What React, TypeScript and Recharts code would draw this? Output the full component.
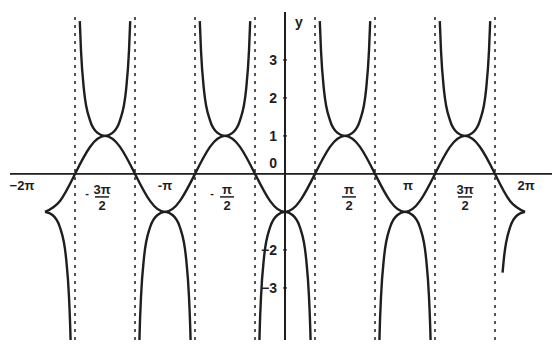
import { LineChart, Line, XAxis, YAxis, ReferenceLine, ReferenceDot } from 'recharts';

// x values are in multiples of pi
const waveX = [
  -2, -1.875, -1.75, -1.625, -1.5, -1.375, -1.25, -1.125,
  -1, -0.875, -0.75, -0.625, -0.5, -0.375, -0.25, -0.125,
  0, 0.125, 0.25, 0.375, 0.5, 0.625, 0.75, 0.875,
  1, 1.125, 1.25, 1.375, 1.5, 1.625, 1.75, 1.875, 2,
];
const waveY = [
  -1, -0.71, 0, 0.71, 1, 0.71, 0, -0.71,
  -1, -0.71, 0, 0.71, 1, 0.71, 0, -0.71,
  -1, -0.71, 0, 0.71, 1, 0.71, 0, -0.71,
  -1, -0.71, 0, 0.71, 1, 0.71, 0, -0.71, -1,
];

// one branch of the secant curve, read from the centre outwards
const branchOffsets = [0, 0.0625, 0.125, 0.175, 0.2, 0.21, 0.214];
const branchHeights = [1, 1.08, 1.41, 2.2, 3.24, 4.02, 4.46];

const upCenters = [-1.5, -0.5, 0.5, 1.5];
const downCenters = [-1, 0, 1];
const asymptotes = [-1.75, -1.25, -0.75, -0.25, 0.25, 0.75, 1.25, 1.75];

const xTicks = [-2, -1.5, -1, -0.5, 0.5, 1, 1.5, 2];
const xTickLabels = ['−2π', '−3π/2', '−π', '−π/2', 'π/2', 'π', '3π/2', '2π'];
const xTickShift = [-23, -3, 0, 2, 4, 3, 0, 1];
const yTicks = [3, 2, 1, -2, -3];
const yTickLabels = ['3', '2', '1', '−2', '−3'];

const INK = '#1e1e1e';
const FONT = '"Liberation Sans", Arial, sans-serif';

type Pt = { x: number; y: number };

function branch(center: number, sign: number, last: number, side: 'both' | 'left' | 'right'): Pt[] {
  const pts: Pt[] = [];
  const offs = branchOffsets.slice(0, last + 1);
  const hs = branchHeights.slice(0, last + 1);
  if (side !== 'right') {
    for (let i = offs.length - 1; i >= 0; i--) pts.push({ x: center - offs[i], y: sign * hs[i] });
  }
  if (side !== 'left') {
    for (let i = side === 'right' ? 0 : 1; i < offs.length; i++) pts.push({ x: center + offs[i], y: sign * hs[i] });
  }
  return pts;
}

const waveData = waveX.map((x, i) => ({ x, y: waveY[i] }));
const branches: Pt[][] = [
  ...upCenters.map((c) => branch(c, 1, 5, 'both')),
  ...downCenters.map((c) => branch(c, -1, 6, 'both')),
  branch(-2, -1, 6, 'right'),
  // the last half branch stops short in the figure
  [{ x: 2 - 0.187, y: -2.6 }, ...branch(2, -1, 3, 'left')],
];

function XLabel(props: any) {
  const { viewBox, text, shift } = props;
  const cx = viewBox.x + (viewBox.width || 0) / 2 + shift;
  const cy = viewBox.y + (viewBox.height || 0) / 2;
  const common = { fill: INK, fontFamily: FONT, fontWeight: 700, fontSize: 13, textAnchor: 'middle' as const };
  if (text.includes('/')) {
    const neg = text.startsWith('−');
    const [num, den] = text.replace('−', '').split('/');
    return (
      <g>
        {neg && (
          <text x={cx - 15} y={cy + 23} {...common} fontSize={11}>
            -
          </text>
        )}
        <text x={cx} y={cy + 20} {...common}>
          {num}
        </text>
        <line x1={cx - 7} x2={cx + 7} y1={cy + 23} y2={cy + 23} stroke={INK} strokeWidth={1.5} />
        <text x={cx} y={cy + 36} {...common}>
          {den}
        </text>
      </g>
    );
  }
  return (
    <text x={cx} y={cy + 16} {...common}>
      {text.replace('−', text === '−π' ? '-' : '−')}
    </text>
  );
}

function YLabel(props: any) {
  const { viewBox, text, anchor = 'end', dx = -8 } = props;
  const cx = viewBox.x + (viewBox.width || 0) / 2;
  const cy = viewBox.y + (viewBox.height || 0) / 2;
  return (
    <text x={cx + dx} y={cy + 5} fill={INK} fontFamily={FONT} fontWeight={700} fontSize={14} textAnchor={anchor}>
      {text}
    </text>
  );
}

export default function App() {
  return (
    <div style={{ position: 'absolute', left: 0, top: 0, width: 552, height: 348, background: '#fff' }}>
      <LineChart width={552} height={348} margin={{ top: 12, right: 0, bottom: 8, left: 10 }}>
        <XAxis type="number" dataKey="x" domain={[-2.2917, 2.225]} allowDataOverflow hide />
        <YAxis type="number" dataKey="y" domain={[-4.37, 4.26]} allowDataOverflow hide />

        {asymptotes.map((a) => (
          <ReferenceLine key={'as' + a} x={a} stroke="#444" strokeWidth={1.8} strokeDasharray="3 5" />
        ))}

        <ReferenceLine y={0} stroke={INK} strokeWidth={1.8} />
        <ReferenceLine x={0} stroke={INK} strokeWidth={2} />

        {yTicks.map((v) => (
          <ReferenceLine
            key={'yt' + v}
            segment={[
              { x: -0.015, y: v },
              { x: 0.015, y: v },
            ]}
            stroke={INK}
            strokeWidth={1.5}
          />
        ))}

        <Line
          data={waveData}
          dataKey="y"
          type="natural"
          stroke={INK}
          strokeWidth={2.4}
          dot={false}
          activeDot={false}
          isAnimationActive={false}
        />
        {branches.map((b, i) => (
          <Line
            key={'br' + i}
            data={b}
            dataKey="y"
            type="monotone"
            stroke={INK}
            strokeWidth={2.4}
            dot={false}
            activeDot={false}
            isAnimationActive={false}
          />
        ))}

        {xTicks.map((v, i) => (
          <ReferenceDot
            key={'xl' + v}
            x={v}
            y={0}
            r={1}
            fill="none"
            stroke="none"
            label={<XLabel text={xTickLabels[i]} shift={xTickShift[i]} />}
          />
        ))}
        {yTicks.map((v, i) => (
          <ReferenceDot
            key={'yl' + v}
            x={0}
            y={v}
            r={1}
            fill="none"
            stroke="none"
            label={<YLabel text={yTickLabels[i]} />}
          />
        ))}
        <ReferenceDot x={0} y={0.3} r={1} fill="none" stroke="none" label={<YLabel text="0" />} />
        <ReferenceDot
          x={0}
          y={4.0}
          r={1}
          fill="none"
          stroke="none"
          label={<YLabel text="y" anchor="start" dx={10} />}
        />
      </LineChart>
    </div>
  );
}
